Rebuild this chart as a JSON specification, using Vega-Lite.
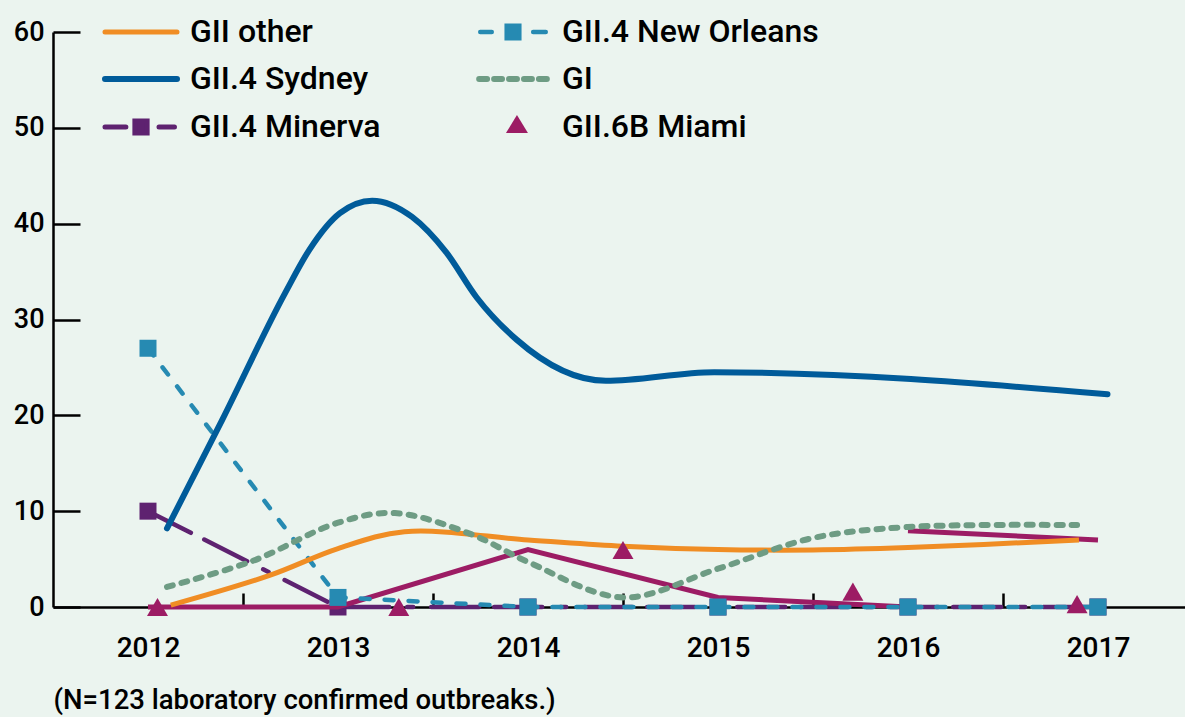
{
  "$schema": "https://vega.github.io/schema/vega-lite/v6.json",
  "autosize": {"type": "none"},
  "padding": {"left": 53, "top": 32, "right": 0, "bottom": 110},
  "width": 1132,
  "height": 575,
  "background": "#EBF4EF",
  "config": {"view": {"stroke": null}},
  "data": {"values": [
    {"series": "GI", "kind": "line", "year": 2012.1, "n": 2.1},
    {"series": "GI", "kind": "line", "year": 2012.55, "n": 4.8},
    {"series": "GI", "kind": "line", "year": 2013.0, "n": 8.8},
    {"series": "GI", "kind": "line", "year": 2013.3, "n": 9.8},
    {"series": "GI", "kind": "line", "year": 2013.7, "n": 7.6},
    {"series": "GI", "kind": "line", "year": 2014.0, "n": 4.7},
    {"series": "GI", "kind": "line", "year": 2014.5, "n": 1.0},
    {"series": "GI", "kind": "line", "year": 2015.0, "n": 4.0},
    {"series": "GI", "kind": "line", "year": 2015.5, "n": 7.2},
    {"series": "GI", "kind": "line", "year": 2016.0, "n": 8.35},
    {"series": "GI", "kind": "line", "year": 2016.89, "n": 8.55},
    {"series": "GII other", "kind": "line", "year": 2012.12, "n": 0.2},
    {"series": "GII other", "kind": "line", "year": 2012.64, "n": 3.3},
    {"series": "GII other", "kind": "line", "year": 2013.0, "n": 6.1},
    {"series": "GII other", "kind": "line", "year": 2013.35, "n": 7.85},
    {"series": "GII other", "kind": "line", "year": 2014.0, "n": 7.0},
    {"series": "GII other", "kind": "line", "year": 2014.5, "n": 6.35},
    {"series": "GII other", "kind": "line", "year": 2015.0, "n": 6.0},
    {"series": "GII other", "kind": "line", "year": 2015.5, "n": 5.95},
    {"series": "GII other", "kind": "line", "year": 2016.0, "n": 6.2},
    {"series": "GII other", "kind": "line", "year": 2016.9, "n": 7.0},
    {"series": "GII.4 Sydney", "kind": "line", "year": 2012.1, "n": 8.2},
    {"series": "GII.4 Sydney", "kind": "line", "year": 2012.39, "n": 19.5},
    {"series": "GII.4 Sydney", "kind": "line", "year": 2012.72, "n": 32.7},
    {"series": "GII.4 Sydney", "kind": "line", "year": 2012.85, "n": 37.3},
    {"series": "GII.4 Sydney", "kind": "line", "year": 2013.01, "n": 41.1},
    {"series": "GII.4 Sydney", "kind": "line", "year": 2013.18, "n": 42.4},
    {"series": "GII.4 Sydney", "kind": "line", "year": 2013.39, "n": 40.7},
    {"series": "GII.4 Sydney", "kind": "line", "year": 2013.57, "n": 37.0},
    {"series": "GII.4 Sydney", "kind": "line", "year": 2013.73, "n": 32.3},
    {"series": "GII.4 Sydney", "kind": "line", "year": 2013.94, "n": 27.9},
    {"series": "GII.4 Sydney", "kind": "line", "year": 2014.41, "n": 23.6},
    {"series": "GII.4 Sydney", "kind": "line", "year": 2014.98, "n": 24.5},
    {"series": "GII.4 Sydney", "kind": "line", "year": 2017.05, "n": 22.2},
    {"series": "GII.4 New Orleans", "kind": "line", "year": 2012, "n": 27},
    {"series": "GII.4 New Orleans", "kind": "line", "year": 2013, "n": 1},
    {"series": "GII.4 New Orleans", "kind": "line", "year": 2014, "n": 0},
    {"series": "GII.4 New Orleans", "kind": "line", "year": 2015, "n": 0},
    {"series": "GII.4 New Orleans", "kind": "line", "year": 2016, "n": 0},
    {"series": "GII.4 New Orleans", "kind": "line", "year": 2017, "n": 0},
    {"series": "GII.4 Minerva", "kind": "line", "year": 2012, "n": 10},
    {"series": "GII.4 Minerva", "kind": "line", "year": 2013, "n": 0},
    {"series": "GII.4 Minerva", "kind": "line", "year": 2014, "n": 0},
    {"series": "GII.4 Minerva", "kind": "line", "year": 2015, "n": 0},
    {"series": "GII.4 Minerva", "kind": "line", "year": 2016, "n": 0},
    {"series": "GII.4 Minerva", "kind": "line", "year": 2017, "n": 0},
    {"series": "GII.6B Miami", "kind": "line", "seg": "a", "year": 2012, "n": 0},
    {"series": "GII.6B Miami", "kind": "line", "seg": "a", "year": 2013, "n": 0},
    {"series": "GII.6B Miami", "kind": "line", "seg": "a", "year": 2014, "n": 6},
    {"series": "GII.6B Miami", "kind": "line", "seg": "a", "year": 2015, "n": 1},
    {"series": "GII.6B Miami", "kind": "line", "seg": "a", "year": 2016, "n": 0},
    {"series": "GII.6B Miami", "kind": "line", "seg": "b", "year": 2016, "n": 7.95},
    {"series": "GII.6B Miami", "kind": "line", "seg": "b", "year": 2017, "n": 7.0},
    {"series": "GII.6B Miami", "kind": "tri", "year": 2012.05, "n": 0},
    {"series": "GII.6B Miami", "kind": "tri", "year": 2013.32, "n": 0},
    {"series": "GII.6B Miami", "kind": "tri", "year": 2014.5, "n": 5.95},
    {"series": "GII.6B Miami", "kind": "tri", "year": 2015.71, "n": 1.6},
    {"series": "GII.6B Miami", "kind": "tri", "year": 2016.89, "n": 0.3}
  ]},
  "encoding": {
    "x": {
      "field": "year", "type": "quantitative",
      "scale": {"domain": [2011.5, 2017.458], "nice": false, "zero": false},
      "axis": {
        "values": [2012, 2013, 2014, 2015, 2016, 2017], "format": "d",
        "grid": false, "tickSize": -14, "tickWidth": 2.5, "tickColor": "#000",
        "tickOffset": 95, "labelOffset": -95,
        "domainColor": "#000", "domainWidth": 2.5,
        "labelFont": "Roboto", "labelFontSize": 28, "labelFontWeight": 500, "labelColor": "#000",
        "labelPadding": 41, "labelFlush": false, "labelBound": false, "labelOverlap": false,
        "title": "(N=123 laboratory confirmed outbreaks.)",
        "titleFont": "Roboto", "titleFontSize": 27.5, "titleFontWeight": 500, "titleColor": "#000",
        "titleAnchor": "start", "titleAlign": "left", "titlePadding": 24
      }
    },
    "y": {
      "field": "n", "type": "quantitative",
      "scale": {"domain": [0, 60], "nice": false},
      "axis": {
        "values": [0, 10, 20, 30, 40, 50, 60],
        "grid": false, "tickSize": -27, "tickWidth": 2.5, "tickColor": "#000",
        "domainColor": "#000", "domainWidth": 2.5,
        "labelFont": "Roboto", "labelFontSize": 27, "labelFontWeight": 500, "labelColor": "#000",
        "labelPadding": 36, "title": null
      }
    },
    "color": {
      "field": "series", "type": "nominal",
      "scale": {
        "domain": ["GII other", "GII.4 Sydney", "GII.4 Minerva", "GII.4 New Orleans", "GI", "GII.6B Miami"],
        "range": ["#F08D24", "#005B9A", "#5E2270", "#268AB2", "#6E9C84", "#9C1C64"]
      },
      "legend": {
        "orient": "none", "legendX": 72, "legendY": -16, "columns": 2, "title": null,
        "padding": 0, "columnPadding": 86, "rowPadding": 15,
        "symbolSize": 5184, "symbolType": "M-1,0L1,0",
        "labelFont": "Roboto", "labelFontSize": 32, "labelFontWeight": 500, "labelColor": "#000",
        "labelOffset": 33, "labelLimit": 500,
        "encode": {
          "symbols": {
            "update": {
              "shape": {"signal": "datum.value === 'GII.4 Minerva' ? 'M-1,0L-0.42,0M0.5,0L0.93,0M-0.17,-0.17L0.17,-0.17L0.17,0.17L-0.17,0.17Z' : datum.value === 'GII.4 New Orleans' ? 'M-0.91,0L-0.59,0M0.56,0L0.91,0M-0.175,-0.175L0.175,-0.175L0.175,0.175L-0.175,0.175Z' : datum.value === 'GI' ? 'M-0.94,0L-0.72,0M-0.525,0L-0.305,0M-0.11,0L0.11,0M0.305,0L0.525,0M0.72,0L0.94,0' : datum.value === 'GII.6B Miami' ? 'M0.11,-0.33L0.415,0.17L-0.195,0.17Z' : 'M-1,0L1,0'"},
              "fill": {"scale": "color", "field": "value"},
              "stroke": {"scale": "color", "field": "value"},
              "strokeWidth": {"signal": "datum.value === 'GII.6B Miami' ? 0 : (datum.value === 'GII.4 Sydney' || datum.value === 'GI') ? 6 : datum.value === 'GII.4 New Orleans' ? 4.5 : 5"},
              "strokeDash": {"value": [1, 0]},
              "strokeCap": {"value": "round"},
              "size": {"value": 5184},
              "opacity": {"value": 1}
            }
          }
        }
      }
    }
  },
  "layer": [
    {
      "transform": [{"filter": "datum.series === 'GII.4 Minerva'"}],
      "mark": {"type": "line", "strokeWidth": 4.5, "strokeDash": [48, 15, 48, 18, 6, 18], "strokeCap": "round"}
    },
    {
      "transform": [{"filter": "datum.series === 'GII.4 Minerva'"}],
      "mark": {"type": "point", "shape": "square", "filled": true, "size": 289, "opacity": 1}
    },
    {
      "transform": [{"filter": "datum.series === 'GII.6B Miami' && datum.kind === 'line'"}],
      "mark": {"type": "line", "strokeWidth": 5},
      "encoding": {"detail": {"field": "seg", "type": "nominal"}}
    },
    {
      "transform": [{"filter": "datum.series === 'GII.4 New Orleans'"}],
      "mark": {"type": "line", "strokeWidth": 4.5, "strokeDash": [9, 15], "strokeCap": "round"}
    },
    {
      "transform": [{"filter": "datum.series === 'GII.4 New Orleans'"}],
      "mark": {"type": "point", "shape": "square", "filled": true, "size": 289, "opacity": 1}
    },
    {
      "transform": [{"filter": "datum.series === 'GII other'"}],
      "mark": {"type": "line", "strokeWidth": 5, "interpolate": "catmull-rom"}
    },
    {
      "transform": [{"filter": "datum.series === 'GI'"}],
      "mark": {"type": "line", "strokeWidth": 6, "strokeDash": [6, 9], "strokeCap": "round", "interpolate": "catmull-rom"}
    },
    {
      "transform": [{"filter": "datum.series === 'GII.4 Sydney'"}],
      "mark": {"type": "line", "strokeWidth": 6, "strokeCap": "round", "interpolate": "monotone"}
    },
    {
      "transform": [{"filter": "datum.series === 'GII.6B Miami' && datum.kind === 'tri'"}],
      "mark": {"type": "point", "shape": "triangle-up", "filled": true, "size": 440, "opacity": 1}
    }
  ]
}
